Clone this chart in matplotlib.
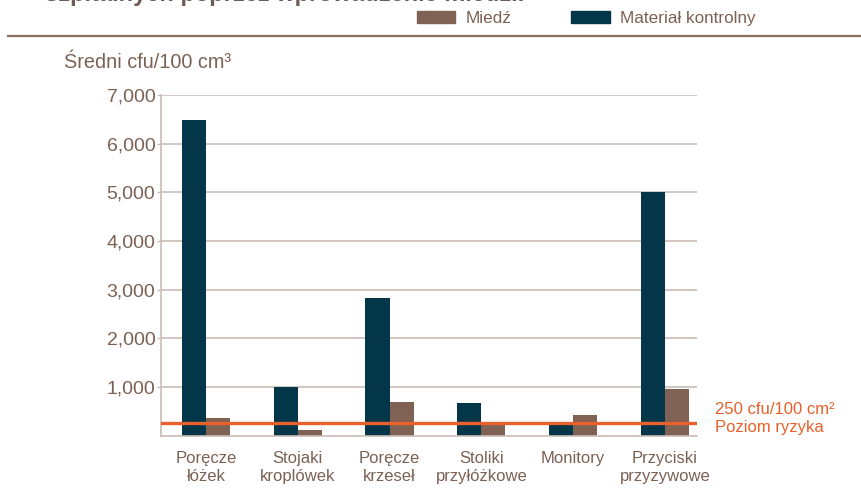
import numpy as np
import matplotlib
matplotlib.use("Agg")
import matplotlib.pyplot as plt
from matplotlib.patches import Patch
from matplotlib.lines import Line2D

plt.rcParams["font.family"] = ["Liberation Sans", "DejaVu Sans"]

# mean cfu per 100 cm3, by surface type
categories = ["Poręcze\nłóżek", "Stojaki\nkroplówek", "Poręcze\nkrzeseł",
              "Stoliki\nprzyłóżkowe", "Monitory", "Przyciski\nprzyzywowe"]
control_vals = [6480, 990, 2820, 670, 240, 5000]
copper_vals = [360, 120, 690, 215, 430, 950]
risk_level = 250
yticks = [1000, 2000, 3000, 4000, 5000, 6000, 7000]

NAVY = "#04364a"
COPPER = "#7f6253"
ORANGE = "#e8602a"
BROWN = "#7b6154"
GRID = "#cbbdb5"

fig = plt.figure(figsize=(8.62, 4.96), dpi=100)
ax = fig.add_axes([161 / 862, 1 - 435.5 / 496, 536 / 862, 340.5 / 496])

x = np.arange(len(categories))
w = 0.262
ax.bar(x - w / 2, control_vals, width=w, color=NAVY, zorder=2)
ax.bar(x + w / 2, copper_vals, width=w, color=COPPER, zorder=2)

# risk threshold
ax.axhline(risk_level, color=ORANGE, lw=2.4, zorder=3)
ax.annotate(f"{risk_level} cfu/100 cm²\nPoziom ryzyka",
            xy=(1, risk_level), xycoords=("axes fraction", "data"),
            xytext=(13, 3.5), textcoords="offset points",
            ha="left", va="center", color=ORANGE, fontsize=12,
            linespacing=1.25, annotation_clip=False)

ax.set_xlim(-0.49, 5.35)
ax.set_ylim(0, 7000)
ax.set_yticks(yticks)
ax.set_yticklabels([f"{v:,}" for v in yticks])
ax.yaxis.grid(True, color=GRID, lw=1.2, zorder=0)
ax.set_axisbelow(True)
ax.tick_params(axis="y", length=3, width=1, color=GRID, pad=1,
               labelsize=14, labelcolor=BROWN)
ax.set_xticks(x)
ax.set_xticklabels(categories, linespacing=1.3)
ax.tick_params(axis="x", length=0, pad=11, labelsize=12, labelcolor=BROWN)

for side in ("top", "right"):
    ax.spines[side].set_visible(False)
for side in ("left", "bottom"):
    ax.spines[side].set_color(GRID)
    ax.spines[side].set_linewidth(1.2)

fig.text(64 / 862, 1 - 68 / 496, "Średni cfu/100 cm³", color=BROWN,
         fontsize=14.3, va="baseline")

# header strip: clipped title, legend and rule
fig.text(45 / 862, 1 - 0.5 / 496, "szpitalnych poprzez wprowadzenie miedzi.",
         fontsize=17, fontweight="bold", color="#6d5c55", va="baseline")
handles = [Patch(color=COPPER, label="Miedź"),
           Patch(color=NAVY, label="Materiał kontrolny")]
fig.legend(handles=handles, loc="center left",
           bbox_to_anchor=(417 / 862, 1 - 18.5 / 496), ncol=2,
           frameon=False, fontsize=12.3, labelcolor=BROWN,
           handlelength=2.25, handleheight=0.76, handletextpad=0.6,
           columnspacing=3.5, borderpad=0, borderaxespad=0)
fig.add_artist(Line2D([8 / 862, 1], [1 - 36 / 496, 1 - 36 / 496],
                      color="#8d6e60", lw=1.6, transform=fig.transFigure))

fig.savefig("out.png", dpi=100)
